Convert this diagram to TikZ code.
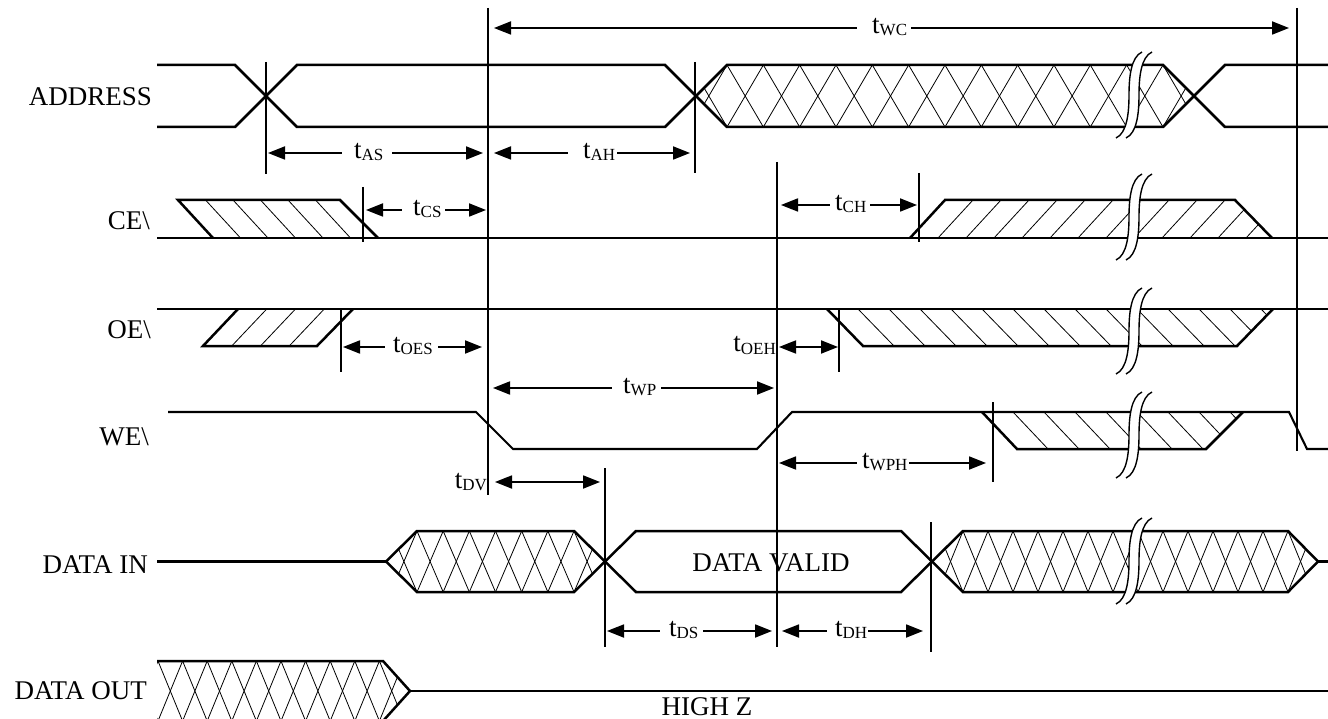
\documentclass[tikz,border=0pt]{standalone}
\usepackage{fontspec}
\setmainfont{Liberation Serif}
\usetikzlibrary{arrows.meta}
\newcommand\tsub[1]{t\raisebox{-2pt}{\fontsize{17}{17}\selectfont #1}}
\begin{document}
\begin{tikzpicture}[x=1pt,y=-1pt,
  sig/.style={line width=2.5pt},
  sigw/.style={line width=2.1pt},
  vl/.style={line width=1.7pt},
  hat/.style={line width=0.8pt},
  brk/.style={line width=1.4pt},
  dim/.style={line width=1.8pt,{Triangle[length=17pt,width=13pt]}-{Triangle[length=17pt,width=13pt]}},
  lab/.style={font=\fontsize{27}{30}\selectfont, inner sep=0pt},
  tl/.style={font=\fontsize{27}{30}\selectfont, inner sep=0pt, fill=white, anchor=base west},
]
\useasboundingbox (0,0) rectangle (1328,719);

% ---------- signal labels ----------
\node[lab, anchor=base east] (lADDR) at (152,106) {ADDRESS};
\node[lab, anchor=base east] (lCE) at (150,230) {CE\textbackslash};
\node[lab, anchor=base east] (lOE) at (151,338) {OE\textbackslash};
\node[lab, anchor=base east] (lWE) at (149,445) {WE\textbackslash};
\node[lab, anchor=base east] (lDIN) at (148,573) {DATA IN};
\node[lab, anchor=base east] (lDOUT) at (147,699) {DATA OUT};
\node[lab, anchor=base] (lvalid) at (771,571) {DATA VALID};
\node[lab, anchor=base] (lhz) at (707,715) {HIGH Z};

% ---------- hatching ----------
% ADDRESS cross hatch
\begin{scope}
\clip (696,96) -- (727,65) -- (1163,65) -- (1194,96) -- (1163,127) -- (727,127) -- cycle;
\foreach \k in {-1,...,13} {
  \draw[hat] ({727+\k*36.33},65) -- ({727+(\k+1)*36.33},127);
  \draw[hat] ({727+\k*36.33},65) -- ({727+(\k-1)*36.33},127);
}
\end{scope}
% DATA IN cross hatch 1
\begin{scope}
\clip (386,561.5) -- (417,531) -- (574,531) -- (605,561.5) -- (574,592) -- (417,592) -- cycle;
\foreach \k in {-1,...,7} {
  \draw[hat] ({417+\k*26.17},531) -- ({417+(\k+1)*26.17},592);
  \draw[hat] ({417+\k*26.17},531) -- ({417+(\k-1)*26.17},592);
}
\end{scope}
% DATA IN cross hatch 2
\begin{scope}
\clip (932,561.5) -- (963,531) -- (1288,531) -- (1318,561.5) -- (1288,592) -- (963,592) -- cycle;
\foreach \k in {-1,...,14} {
  \draw[hat] ({963+\k*25},531) -- ({963+(\k+1)*25},592);
  \draw[hat] ({963+\k*25},531) -- ({963+(\k-1)*25},592);
}
\end{scope}
% DATA OUT cross hatch
\begin{scope}
\clip (157,661) -- (383,661) -- (410,691) -- (383,721) -- (157,721) -- cycle;
\foreach \k in {-1,...,10} {
  \draw[hat] ({158+\k*24.6},661) -- ({158+(\k+1)*24.6},721);
  \draw[hat] ({158+\k*24.6},661) -- ({158+(\k-1)*24.6},721);
}
\end{scope}
% CE left
\foreach \k in {1,...,5} \draw[hat] ({178+27.5*\k},200) -- ({213+27.5*\k},238);
% CE right
\begin{scope}
\clip (910,238) -- (945,200) -- (1235,200) -- (1272,238) -- cycle;
\foreach \k in {1,...,12} \draw[hat] ({945+28*\k},200) -- ({910+28*\k},238);
\end{scope}
% OE left
\foreach \k in {1,...,3} \draw[hat] ({238+28.75*\k},309) -- ({203+28.75*\k},346);
% OE right
\begin{scope}
\clip (827,309) -- (1273,309) -- (1237,346) -- (863,346) -- cycle;
\foreach \k in {1,...,14} \draw[hat] ({827+31*\k},309) -- ({863+31*\k},346);
\end{scope}
% WE right
\begin{scope}
\clip (982,412) -- (1243,412) -- (1206,449) -- (1017,449) -- cycle;
\foreach \k in {1,...,8} \draw[hat] ({982+31*\k},412) -- ({1017+31*\k},449);
\end{scope}

% ---------- signal outlines ----------
% ADDRESS
\draw[sig] (157,65) -- (235,65) -- (297,127) -- (665,127) -- (727,65) -- (1163,65) -- (1225,127) -- (1328,127);
\draw[sig] (157,127) -- (235,127) -- (297,65) -- (665,65) -- (727,127) -- (1163,127) -- (1225,65) -- (1328,65);
% CE
\draw[sig] (157,238) -- (1328,238);
\draw[sig] (213,238) -- (178,200) -- (340,200) -- (378,238);
\draw[sig] (910,238) -- (945,200) -- (1235,200) -- (1272,238);
% OE
\draw[sig] (157,309) -- (1328,309);
\draw[sig] (238,309) -- (203,346) -- (317,346) -- (353,309);
\draw[sig] (827,309) -- (863,346) -- (1237,346) -- (1273,309);
% WE
\draw[sigw] (168,412) -- (476,412) -- (513,449) -- (757,449) -- (792,412) -- (1289,412) -- (1307,449) -- (1328,449);
\draw[sig] (982,412) -- (1017,449) -- (1206,449) -- (1243,412);
% DATA IN
\draw[sigw] (157,561.5) -- (386,561.5);
\draw[sig] (386,561.5) -- (417,531) -- (574,531) -- (636,592) -- (901,592) -- (963,531) -- (1288,531) -- (1318,561.5);
\draw[sig] (386,561.5) -- (417,592) -- (574,592) -- (636,531) -- (901,531) -- (963,592) -- (1288,592) -- (1318,561.5);
\draw[sigw] (1318,561.5) -- (1328,561.5);
% DATA OUT
\draw[sig] (157,661) -- (383,661) -- (410,691) -- (383,721);
\draw[sig] (410,691) -- (1328,691);

% ---------- break marks ----------
\foreach \m/\c in {1129/95, 1129/217, 1129/331, 1129/435, 1129/561} {
  \fill[white] ({\m-13},{\c+43}) .. controls ({\m-2},{\c+38}) and (\m,{\c+18}) .. (\m,\c)
     .. controls (\m,{\c-18}) and ({\m+2},{\c-38}) .. ({\m+13},{\c-43})
     -- ({\m+23},{\c-43}) .. controls ({\m+12},{\c-38}) and ({\m+10},{\c-18}) .. ({\m+10},\c)
     .. controls ({\m+10},{\c+18}) and ({\m+8},{\c+38}) .. ({\m-3},{\c+43}) -- cycle;
  \draw[brk] ({\m-13},{\c+43}) .. controls ({\m-2},{\c+38}) and (\m,{\c+18}) .. (\m,\c)
     .. controls (\m,{\c-18}) and ({\m+2},{\c-38}) .. ({\m+13},{\c-43});
  \draw[brk] ({\m-3},{\c+43}) .. controls ({\m+8},{\c+38}) and ({\m+10},{\c+18}) .. ({\m+10},\c)
     .. controls ({\m+10},{\c-18}) and ({\m+12},{\c-38}) .. ({\m+23},{\c-43});
}

% ---------- reference verticals ----------
\draw[vl] (488,8) -- (488,495);
\draw[vl] (1297,8) -- (1297,451);
\draw[vl] (266,62) -- (266,174);
\draw[vl] (695,62) -- (695,173);
\draw[vl] (363,187) -- (363,242);
\draw[vl] (777,162) -- (777,647);
\draw[vl] (919,173) -- (919,242);
\draw[vl] (341,310) -- (341,372);
\draw[vl] (839,310) -- (839,372);
\draw[vl] (993,402) -- (993,482);
\draw[vl] (605,468) -- (605,647);
\draw[vl] (931,522) -- (931,652);

% ---------- dimension arrows ----------
\coordinate (wcA) at (494,28);   \coordinate (wcB) at (1289,28);
\coordinate (asA) at (268,153);  \coordinate (asB) at (483,153);
\coordinate (ahA) at (494,153);  \coordinate (ahB) at (690,153);
\coordinate (csA) at (366,210);  \coordinate (csB) at (486,210);
\coordinate (chA) at (781,205);  \coordinate (chB) at (917,205);
\coordinate (oesA) at (343,347); \coordinate (oesB) at (482,347);
\coordinate (oehA) at (779,347); \coordinate (oehB) at (838,347);
\coordinate (wpA) at (493,388);  \coordinate (wpB) at (774,388);
\coordinate (wphA) at (779,463); \coordinate (wphB) at (986,463);
\coordinate (dvA) at (495,482);  \coordinate (dvB) at (600,482);
\coordinate (dsA) at (607,631);  \coordinate (dsB) at (772,631);
\coordinate (dhA) at (782,631);  \coordinate (dhB) at (923,631);
\foreach \a/\b in {wcA/wcB, asA/asB, ahA/ahB, csA/csB, chA/chB, oesA/oesB, oehA/oehB,
                   wpA/wpB, wphA/wphB, dvA/dvB, dsA/dsB, dhA/dhB}
  \draw[dim] (\a) -- (\b);

% ---------- timing labels ----------
\node[tl] (twc) at (857,33.5) {\hspace*{15pt}\tsub{WC}\hspace*{4pt}};
\node[tl] (tas) at (342,158.5) {\hspace*{12pt}\tsub{AS}\hspace*{9pt}};
\node[tl] (tah) at (568,158.5) {\hspace*{15pt}\tsub{AH}\hspace*{2pt}};
\node[tl] (tcs) at (402,215.5) {\hspace*{11pt}\tsub{CS}\hspace*{3pt}};
\node[tl] (tch) at (830,210.5) {\hspace*{5pt}\tsub{CH}\hspace*{4pt}};
\node[tl] (toes) at (385,352.5) {\hspace*{8pt}\tsub{OES}\hspace*{5pt}};
\node[tl] (twp) at (612,393.5) {\hspace*{11pt}\tsub{WP}\hspace*{5pt}};
\node[tl] (twph) at (857,468.5) {\hspace*{5pt}\tsub{WPH}\hspace*{2pt}};
\node[tl] (tds) at (660,636.5) {\hspace*{9pt}\tsub{DS}\hspace*{5pt}};
\node[tl] (tdh) at (827,636.5) {\hspace*{8pt}\tsub{DH}\hspace*{1pt}};
\node[lab, anchor=base east] (toeh) at (776,352) {\tsub{OEH}};
\node[lab, anchor=base east] (tdv) at (487,488) {\tsub{DV}};
\end{tikzpicture}
\end{document}
